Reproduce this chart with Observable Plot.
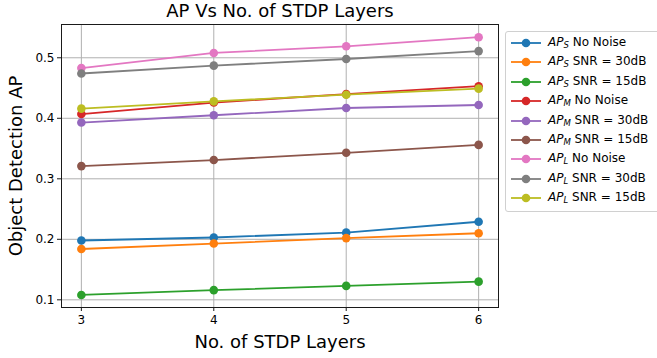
<!DOCTYPE html>
<html>
<head>
<meta charset="utf-8">
<script src="https://cdn.jsdelivr.net/npm/d3@7"></script>
<script src="https://cdn.jsdelivr.net/npm/@observablehq/plot@0.6"></script>
<style>
  html, body { margin: 0; padding: 0; background: #fff; }
  #wrap { position: relative; width: 657px; height: 358px; overflow: hidden; font-family: "DejaVu Sans", sans-serif; }
  #legend { position: absolute; left: 505px; top: 31px; width: 170px; border: 1px solid #d0d0d0; border-radius: 3px; background: #fff; padding: 1px 0 3px 0; box-sizing: border-box; }
  .row { position: relative; height: 19.4px; font-size: 12px; color: #000; white-space: nowrap; }
  .row svg { position: absolute; left: 3px; top: 0; }
  .row span { position: absolute; left: 42px; top: 2px; line-height: 15px; }
  .row i sub { font-size: 8.5px; vertical-align: -2px; }
</style>
</head>
<body>
<div id="wrap"><div id="legend"></div></div>
<script>
const layers = [3, 4, 5, 6];
const sizes = ["S", "S", "S", "M", "M", "M", "L", "L", "L"];
const conditions = ["No Noise", "SNR = 30dB", "SNR = 15dB", "No Noise", "SNR = 30dB", "SNR = 15dB", "No Noise", "SNR = 30dB", "SNR = 15dB"];
const colors = ["#1f77b4", "#ff7f0e", "#2ca02c", "#d62728", "#9467bd", "#8c564b", "#e377c2", "#7f7f7f", "#bcbd22"];
const apS_noNoise = [0.198, 0.203, 0.211, 0.229];
const apS_30dB = [0.184, 0.193, 0.202, 0.210];
const apS_15dB = [0.108, 0.116, 0.123, 0.130];
const apM_noNoise = [0.407, 0.426, 0.440, 0.453];
const apM_30dB = [0.393, 0.405, 0.417, 0.422];
const apM_15dB = [0.321, 0.331, 0.343, 0.356];
const apL_noNoise = [0.483, 0.508, 0.519, 0.534];
const apL_30dB = [0.474, 0.487, 0.498, 0.511];
const apL_15dB = [0.416, 0.428, 0.439, 0.449];
const yTicks = [0.1, 0.2, 0.3, 0.4, 0.5];
const titleText = "AP Vs No. of STDP Layers";
const xLabel = "No. of STDP Layers";
const yLabel = "Object Detection AP";

const values = [apS_noNoise, apS_30dB, apS_15dB, apM_noNoise, apM_30dB, apM_15dB, apL_noNoise, apL_30dB, apL_15dB];

const font = "DejaVu Sans";
const marks = [
  Plot.gridX(layers, {stroke: "#b0b0b0", strokeOpacity: 1, strokeWidth: 1}),
  Plot.gridY(yTicks, {stroke: "#b0b0b0", strokeOpacity: 1, strokeWidth: 1}),
];
values.forEach((vals, i) => {
  const rows = vals.map((v, j) => ({x: layers[j], y: v}));
  marks.push(Plot.line(rows, {x: "x", y: "y", stroke: colors[i], strokeWidth: 1.8}));
  marks.push(Plot.dot(rows, {x: "x", y: "y", fill: colors[i], r: 4.3}));
});
marks.push(
  Plot.frame({stroke: "#1a1a1a", strokeWidth: 1}),
  Plot.axisX(layers, {tickSize: 4, tickPadding: 4, fontSize: 12, label: null, tickFormat: d => String(d), stroke: "#1a1a1a"}),
  Plot.axisY(yTicks, {tickSize: 4, tickPadding: 3, fontSize: 12, label: null, tickFormat: d => d.toFixed(1), stroke: "#1a1a1a"}),
  Plot.text([titleText], {text: d => d, frameAnchor: "top", lineAnchor: "middle", dy: -13, fontSize: 18, fill: "#000"}),
  Plot.text([xLabel], {text: d => d, frameAnchor: "bottom", lineAnchor: "middle", dy: 35, fontSize: 18, fill: "#000"}),
  Plot.text([yLabel], {text: d => d, frameAnchor: "left", textAnchor: "middle", lineAnchor: "middle", dx: -45, rotate: -90, fontSize: 18, fill: "#000"})
);

const chart = Plot.plot({
  width: 657,
  height: 358,
  marginLeft: 61,
  marginRight: 159,
  marginTop: 24,
  marginBottom: 51,
  style: {fontFamily: font, fontSize: "12px", color: "#000", background: "#fff"},
  x: {domain: [2.85, 6.15]},
  y: {domain: [0.0873, 0.555]},
  marks
});
const wrap = document.getElementById("wrap");
wrap.insertBefore(chart, wrap.firstChild);

const legend = document.getElementById("legend");
sizes.forEach((s, i) => {
  const row = document.createElement("div");
  row.className = "row";
  row.innerHTML = `<svg width="34" height="19"><line x1="2" x2="32" y1="10" y2="10" stroke="${colors[i]}" stroke-width="1.8"/><circle cx="17" cy="10" r="4.3" fill="${colors[i]}"/></svg><span><i>AP<sub>${s}</sub></i> ${conditions[i]}</span>`;
  legend.appendChild(row);
});
</script>
</body>
</html>
